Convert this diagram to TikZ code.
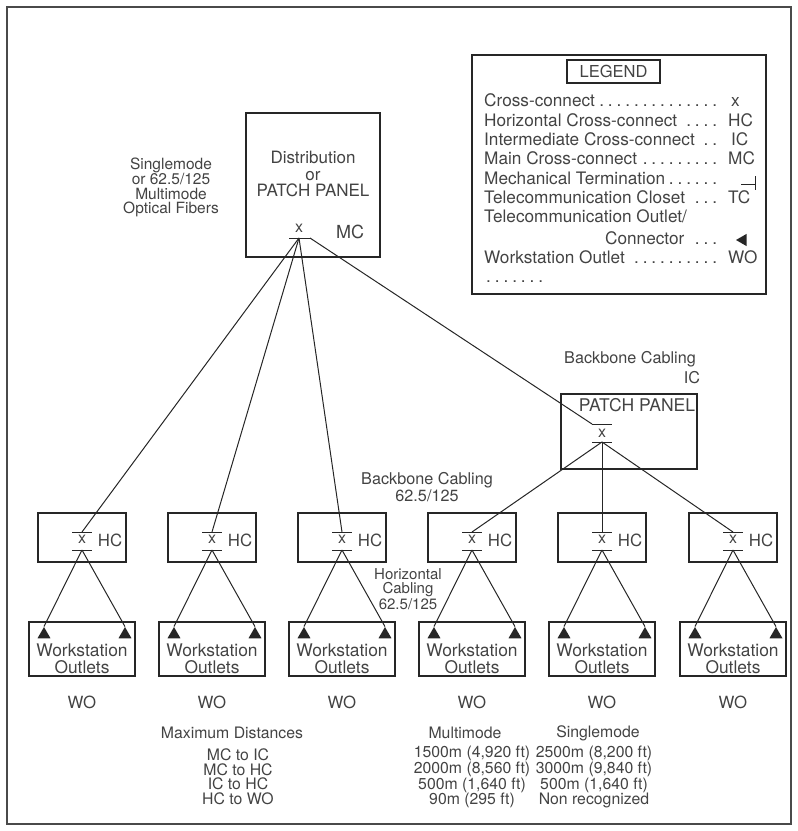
\documentclass[tikz,border=0pt]{standalone}
\usepackage{fontspec}
\setmainfont{TeX Gyre Heros}
\usepackage{tikz}
\usetikzlibrary{shapes.geometric}
\definecolor{cbLine}{HTML}{262626}
\definecolor{cbText}{HTML}{434343}
\definecolor{cbFrame}{HTML}{4A4A4A}
\newcommand{\lgdots}{\leaders\hbox to 8.7pt{\hss.\hss}\hfill}
\tikzset{
  panel/.style={
    rectangle, draw=cbLine, line width=1.1pt,
    inner sep=0pt
  },
  hcbox/.style={panel, minimum width=88pt, minimum height=49pt},
  wobox/.style={panel, minimum width=106pt, minimum height=54pt},
  outlet/.style={
    regular polygon, regular polygon sides=3,
    fill=cbLine, inner sep=0pt, minimum size=15pt
  },
  cable/.style={draw=cbLine, line width=1pt},
  bar/.style={draw=cbLine, line width=1pt},
  lbl/.style={text=cbText, inner sep=0pt, align=center, font=\fontsize{16.2}{17}\selectfont},
  tag/.style={text=cbText, inner sep=0pt, font=\fontsize{16.8}{16.8}\selectfont},
  xmark/.style={text=cbText, inner sep=0pt, font=\fontsize{16}{16}\selectfont},
  legendline/.style={text=cbText, inner sep=0pt, anchor=base west, font=\fontsize{17.2}{17.2}\selectfont},
  table/.style={text=cbText, inner sep=0pt, align=center, font=\fontsize{15.8}{14.5}\selectfont}
}

\begin{document}
\begin{tikzpicture}[x=1pt, y=-1pt]
        \useasboundingbox (0,0) rectangle (798,831);
        \draw[draw=cbFrame, line width=1.6pt] (7,7) rectangle (791,824);

        % legend
        \node[panel, minimum width=294pt, minimum height=239pt] (legend) at (619,174.5) {};
        \node[panel, minimum width=93pt, minimum height=23pt, text=cbText, font=\fontsize{16.5}{16.5}\selectfont] (lgtitle) at (613.5,71.5) {LEGEND};
        \node[legendline] (lg1) at (484,106) {\makebox[236pt][l]{Cross-connect\lgdots}};
        \node[legendline] (lg2) at (484,126) {\makebox[236pt][l]{Horizontal Cross-connect\lgdots}};
        \node[legendline] (lg3) at (484,145) {\makebox[236pt][l]{Intermediate Cross-connect\lgdots}};
        \node[legendline] (lg4) at (484,164) {\makebox[236pt][l]{Main Cross-connect\lgdots}};
        \node[legendline] (lg5) at (484,184) {\makebox[236pt][l]{Mechanical Termination\lgdots}};
        \node[legendline] (lg6) at (484,203) {\makebox[236pt][l]{Telecommunication Closet\lgdots}};
        \node[legendline] (lg7) at (484,222) {Telecommunication Outlet/};
        \node[legendline] (lg8) at (484,244) {\makebox[236pt][l]{\hspace*{121pt}Connector\lgdots}};
        \node[legendline] (lg9) at (484,263) {\makebox[236pt][l]{Workstation Outlet\lgdots}};
        \node[legendline] (lg10) at (484,282) {\makebox[61pt][l]{\lgdots}};
        \node[legendline] (sym1) at (731,106) {x};
        \node[legendline] (sym2) at (728,126) {HC};
        \node[legendline] (sym3) at (731,145) {IC};
        \node[legendline] (sym4) at (728,164) {MC};
        \coordinate (sym5) at (755,184);
        \draw[bar] (741,184) -- (sym5);
        \draw[bar] (755,176) -- (755,190);
        \node[legendline] (sym6) at (728,203) {TC};
        \node[outlet, shape border rotate=90, minimum size=14pt] (sym8) at (743,240) {};
        \node[legendline] (sym9) at (728,263) {WO};

        % main cross-connect
        \node[panel, minimum width=134pt, minimum height=144pt] (mc) at (313,185) {};
        \node[lbl, font=\fontsize{17}{16.2}\selectfont] (mctxt) at (313,174) {Distribution\\or\\PATCH PANEL};
        \node[xmark] (mcx) at (299,228) {x};
        \node[tag, font=\fontsize{18}{18}\selectfont] (mctag) at (350,232) {MC};
        \coordinate (mcbar) at (299,238);
        \coordinate (mcbarR) at (310,238);
        \draw[bar] (289,238) -- (mcbarR);
        \node[lbl, font=\fontsize{15.5}{14.5}\selectfont] (fibre) at (171,187.5) {Singlemode\\or 62.5/125\\Multimode\\Optical Fibers};

        % intermediate cross-connect
        \node[panel, minimum width=136pt, minimum height=75pt] (ic) at (629,431.5) {};
        \node[tag, font=\fontsize{17.5}{17.5}\selectfont] (ictxt) at (637,405) {PATCH PANEL};
        \node[xmark] (icx) at (602,433) {x};
        \coordinate (ictopL) at (592,424);
        \coordinate (icbot) at (602,442);
        \draw[bar] (ictopL) -- (612,424);
        \draw[bar] (592,442) -- (612,442);
        \node[lbl] (bbtop) at (630,359) {Backbone Cabling};
        \node[lbl] (ictag) at (692,378) {IC};

        % horizontal cross-connects and outlets
        \foreach \i/\cx in {1/82,2/212,3/342,4/472,5/602,6/733} {
          \node[hcbox] (hc\i) at (\cx,537.5) {};
          \node[xmark] (hcx\i) at (\cx,539) {x};
          \node[tag] (hctag\i) at (\cx+28,540) {HC};
          \coordinate (hctop\i) at (\cx,532);
          \coordinate (hcbot\i) at (\cx,550);
          \draw[bar] (\cx-10,532) -- (\cx+10,532);
          \draw[bar] (\cx-10,550) -- (\cx+10,550);
          \node[wobox] (wo\i) at (\cx,649) {};
          \node[lbl, font=\fontsize{17.4}{17}\selectfont] (wotxt\i) at (\cx,658.5) {Workstation\\Outlets};
          \node[outlet] (tl\i) at (\cx-38,634.5) {};
          \node[outlet] (tr\i) at (\cx+43,634.5) {};
          \draw[cable] (hcbot\i) -- (tl\i.corner 1);
          \draw[cable] (hcbot\i) -- (tr\i.corner 1);
          \node[tag] (wotag\i) at (\cx,702) {WO};
        }

        % backbone
        \foreach \i in {1,2,3} \draw[cable] (mcbar) -- (hctop\i);
        \draw[cable] (mcbarR) -- (ictopL);
        \foreach \i in {4,5,6} \draw[cable] (icbot) -- (hctop\i);
        \node[lbl] (bbleft) at (427,487.5) {Backbone Cabling\\62.5/125};
        \node[lbl, font=\fontsize{15}{14.2}\selectfont] (horiz) at (408,589) {Horizontal\\Cabling\\62.5/125};

        % distances
        \node[table] (maxd) at (232,733) {Maximum Distances};
        \node[table] (pairs) at (238,776.5) {MC to IC\\MC to HC\\IC to HC\\HC to WO};
        \node[table] (multi) at (465,733) {Multimode};
        \node[table] (multid) at (472,777) {1500m (4,920 ft)\\2000m (8,560 ft)\\500m (1,640 ft)\\90m (295 ft)};
        \node[table] (single) at (598,733) {Singlemode};
        \node[table] (singled) at (594,777) {2500m (8,200 ft)\\3000m (9,840 ft)\\500m (1,640 ft)\\Non recognized};
      \end{tikzpicture}
\end{document}
